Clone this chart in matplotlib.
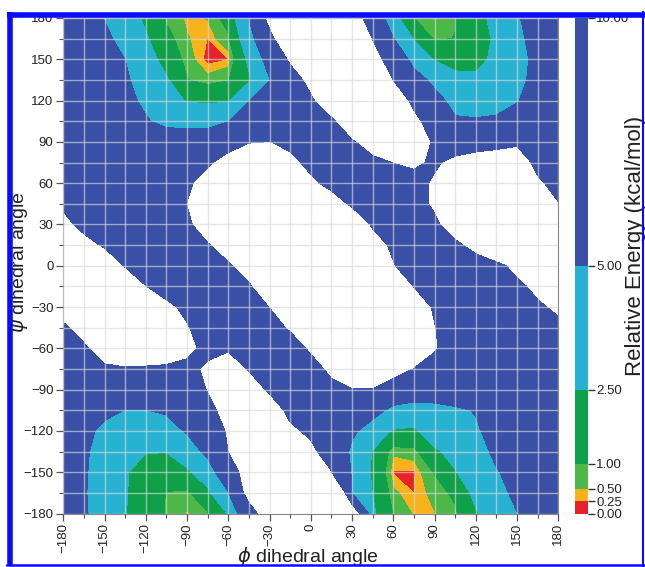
import numpy as np
import matplotlib
matplotlib.use('Agg')
import matplotlib.pyplot as plt
from matplotlib.lines import Line2D

# ---------------- data (relative energy, kcal/mol) ----------------
phi = list(range(-180, 181, 15))            # columns
psi_rows = list(range(180, -181, -15))      # rows, top to bottom

e_p180 = [7.5, 6.2, 4.91, 3.52, 2.13, 0.89, 0.41, 0.53, 1.33, 5.05, 11.5, 16.5, 20, 18, 12.7, 7.6, 3.14, 0.98, 0.42, 0.96, 1.88, 3.07, 4.77, 6.16, 7.5]
e_p165 = [7.3, 6.39, 5.48, 4.27, 2.71, 1.28, 0.54, 0.24, 0.875, 3.75, 8.64, 14.8, 19, 20, 15, 9.9, 5.1, 2.39, 0.9, 1.02, 1.83, 2.73, 4.43, 5.92, 7.3]
e_p150 = [7.0, 6.6, 6.3, 4.98, 3.37, 1.8, 0.72, 0.12, 0.24, 2.87, 6.08, 10.71, 16, 20, 17.6, 12.4, 7.37, 4.07, 2.37, 1.35, 1.95, 2.93, 4.22, 5.6, 7.0]
e_p135 = [6.8, 6.9, 6.3, 5.3, 4.07, 2.69, 1.05, 0.65, 0.95, 2.22, 4.9, 7.94, 11.3, 17, 20, 15, 9.95, 6.17, 4.35, 3.4, 2.85, 3.81, 4.57, 5.5, 6.8]
e_p120 = [7.0, 7.0, 6.4, 5.6, 4.58, 3.42, 2.35, 2.2, 2.3, 4.95, 6.42, 7.9, 9.37, 13, 18.3, 18.6, 13.3, 8.9, 5.9, 4.2, 4.0, 4.3, 4.9, 5.8, 7.0]
e_p105 = [7.4, 7.0, 6.3, 5.6, 5.2, 4.4, 4.2, 4.2, 4.95, 7.3, 8.2, 8.0, 8.2, 9.3, 13, 16, 15, 11.2, 7.8, 5.3, 5.2, 5.3, 5.8, 6.4, 7.4]
e_p090 = [8.0, 7.6, 7.0, 6.5, 6.3, 6.3, 6.5, 6.5, 8.4, 9.8, 10.05, 9.27, 8.4, 8.6, 9.6, 12, 13, 12, 9.6, 7.8, 8.1, 8.8, 9.6, 7.8, 8.0]
e_p075 = [8.6, 8.2, 7.7, 7.4, 7.3, 7.4, 8.8, 9.5, 11.5, 13, 12.5, 10.8, 9.2, 8.2, 8.3, 9.0, 10.05, 10.6, 9.5, 11, 12, 12, 11.5, 9.3, 8.6]
e_p060 = [9.2, 8.8, 8.2, 7.8, 7.8, 8.3, 9.4, 11.5, 13.5, 15, 14, 12, 10.6, 9.1, 8.3, 8.2, 8.5, 8.8, 10.5, 12, 13, 13, 12, 10.4, 9.2]
e_p045 = [9.7, 9.0, 8.4, 8.0, 7.9, 8.3, 10.05, 12.5, 15, 16, 16, 15, 13, 11.5, 9.5, 8.0, 7.8, 8.5, 10.6, 12.5, 14, 14, 13, 11.5, 10.1]
e_p030 = [10.5, 9.5, 8.8, 8.3, 8.0, 8.3, 9.5, 11.5, 14, 17, 18, 18, 17, 15, 12.5, 9.6, 8.0, 8.2, 9.3, 11.9, 14, 15, 15, 14, 12]
e_p015 = [12.5, 10.6, 9.8, 9.0, 8.3, 8.3, 9.0, 9.8, 11.3, 14, 17, 18, 17, 16, 14, 11.5, 9.4, 8.3, 8.2, 9.3, 11.1, 13, 14.5, 15, 14]
e_0000 = [14, 13, 11.2, 9.9, 8.8, 8.3, 8.5, 9.2, 9.7, 11.2, 14, 16, 17, 16, 14.5, 12.5, 10.2, 8.3, 8.0, 8.0, 8.5, 9.3, 10.8, 12, 13]
e_m015 = [14, 14, 12.5, 11.2, 10.05, 8.9, 8.3, 8.5, 9.0, 9.7, 11.9, 14, 15, 15.5, 15, 13.5, 11.8, 9.95, 8.3, 8.0, 8.1, 8.6, 9.4, 10.7, 12]
e_m030 = [11.5, 13, 13.5, 13, 11.8, 10.6, 9.4, 8.4, 8.4, 9.0, 10.05, 12.5, 14, 15, 15, 14.5, 13, 11.5, 9.7, 8.5, 8.0, 8.2, 8.8, 9.6, 10.5]
e_m045 = [9.5, 11.1, 12.5, 13, 12.5, 11.5, 10.2, 8.7, 8.2, 8.3, 9.0, 10.3, 12.5, 14, 15, 15, 14, 12.5, 10.1, 8.5, 7.8, 7.8, 8.2, 8.8, 9.4]
e_m060 = [8.8, 9.6, 11.2, 11.8, 11.8, 11.5, 10.6, 9.4, 9.7, 8.8, 8.3, 8.8, 10.4, 12.5, 14, 14.5, 14, 12.5, 10.3, 8.5, 7.6, 7.3, 7.4, 7.8, 8.3]
e_m075 = [8.0, 8.8, 9.6, 9.8, 9.7, 9.6, 9.4, 10.4, 11.5, 9.8, 8.5, 8.4, 9.0, 10.6, 12.5, 13, 12, 9.9, 8.7, 7.8, 7.2, 7.0, 7.0, 7.3, 7.8]
e_m090 = [7.4, 7.6, 7.7, 7.6, 7.4, 7.3, 8.0, 10.15, 12.5, 11.5, 9.6, 8.3, 8.4, 9.3, 9.85, 9.85, 7.6, 6.8, 6.5, 6.3, 6.5, 6.8, 7.0, 7.2, 7.4]
e_m105 = [6.8, 6.2, 5.5, 4.95, 4.95, 5.3, 7.6, 9.27, 11, 12.5, 11.5, 9.3, 8.2, 8.0, 7.6, 6.2, 4.2, 3.8, 4.2, 4.7, 5.1, 5.8, 6.2, 6.5, 6.8]
e_m120 = [6.5, 5.6, 4.5, 3.9, 3.6, 4.0, 5.25, 7.9, 10.4, 12, 11.5, 10.5, 9.5, 7.8, 5.6, 3.5, 2.35, 2.2, 3.5, 4.2, 4.8, 5.6, 6.0, 6.3, 6.5]
e_m135 = [6.3, 5.4, 3.9, 2.9, 2.55, 2.55, 3.6, 5.7, 10.05, 12, 13, 12, 10.6, 8.7, 4.3, 2.4, 0.57, 0.74, 2.2, 3.1, 4.3, 5.37, 5.8, 6.0, 6.3]
e_m150 = [6.2, 5.3, 3.7, 2.6, 2.0, 1.7, 2.2, 3.6, 7.4, 12.5, 13.5, 13, 11.5, 10.1, 4.7, 2.2, 0.22, 0.2, 1.05, 2.4, 3.6, 4.9, 5.5, 5.8, 6.2]
e_m165 = [6.0, 5.2, 3.8, 2.6, 1.8, 0.95, 0.8, 2.1, 4.9, 11.9, 14, 14, 17, 20, 4.95, 2.45, 0.6, 0.24, 0.66, 1.18, 3.03, 4.3, 5.5, 5.8, 6.0]
e_m180 = [5.9, 5.25, 4.0, 2.55, 1.8, 0.92, 0.45, 0.9, 2.6, 7.9, 13, 16, 17, 15, 14, 2.8, 0.95, 0.45, 0.48, 0.85, 2.3, 3.6, 4.95, 5.5, 5.9]

energy_rows = [e_p180, e_p165, e_p150, e_p135, e_p120, e_p105, e_p090, e_p075,
               e_p060, e_p045, e_p030, e_p015, e_0000, e_m015, e_m030, e_m045,
               e_m060, e_m075, e_m090, e_m105, e_m120, e_m135, e_m150, e_m165,
               e_m180]

levels = [0.0, 0.25, 0.5, 1.0, 2.5, 5.0, 10.0]
level_labels = ['0.00', '0.25', '0.50', '1.00', '2.50', '5.00', '10.00']
band_colors = ['#E8222A', '#F8B21B', '#4DB848', '#0FA04A', '#27B2D2', '#3A50A6']
axis_ticks = list(range(-180, 181, 30))
minor_ticks = list(range(-180, 181, 15))

# ---------------- figure ----------------
W, H = 645, 567
fig = plt.figure(figsize=(W / 100, H / 100), dpi=100)
fig.patch.set_facecolor('white')
plt.rcParams['mathtext.fontset'] = 'dejavusans'
FONT = 'Liberation Sans'

x0, x1, y0, y1 = 63.3, 558.3, 18.0, 513.5
ax = fig.add_axes([x0 / W, 1 - y1 / H, (x1 - x0) / W, (y1 - y0) / H])

Z = np.array(energy_rows)[::-1]
psi = np.array(psi_rows)[::-1]
PHI, PSI = np.meshgrid(phi, psi)
cs = ax.contourf(PHI, PSI, Z, levels=levels, colors=band_colors, zorder=1)

ax.set_xlim(-180, 180)
ax.set_ylim(-180, 180)
ax.set_xticks(axis_ticks)
ax.set_yticks(axis_ticks)
ax.set_xticks(minor_ticks, minor=True)
ax.set_yticks(minor_ticks, minor=True)
ax.set_axisbelow(False)
ax.grid(which='both', color='#dadada', alpha=0.65, linewidth=1.0, zorder=2)
ax.tick_params(which='major', direction='out', length=5, width=0.9, color='#555555')
ax.tick_params(which='minor', direction='out', length=3, width=0.8, color='#555555')
ax.tick_params(axis='x', labelrotation=90, pad=2)
ax.tick_params(axis='y', pad=2)
for lab in ax.get_xticklabels() + ax.get_yticklabels():
    lab.set_fontfamily(FONT)
    lab.set_fontsize(9.5)
    lab.set_color('#222222')
for sp in ax.spines.values():
    sp.set_color('#888888')
    sp.set_linewidth(0.8)

# colour bar
cax = fig.add_axes([575 / W, 1 - y1 / H, 13 / W, (y1 - y0) / H])
cb = fig.colorbar(cs, cax=cax, spacing='proportional', ticks=levels)
cb.outline.set_visible(False)
cb.ax.set_yticklabels(level_labels)
cb.ax.tick_params(length=5, width=1.0, color='#333333', pad=1)
for lab in cb.ax.get_yticklabels():
    lab.set_fontfamily(FONT)
    lab.set_fontsize(9.5)
    lab.set_color('#222222')

fig.text(635 / W, 1 - 246 / H, 'Relative Energy (kcal/mol)', rotation=90,
         ha='center', va='center', fontsize=16, family=FONT, color='#222222')
fig.text(20 / W, 1 - 262 / H, r'$\psi$ dihedral angle', rotation=90,
         ha='center', va='center', fontsize=14, family=FONT, color='#222222')
fig.text(308 / W, 1 - 557 / H, r'$\phi$ dihedral angle',
         ha='center', va='center', fontsize=14, family=FONT, color='#222222')

# blue frame around the figure
frame_col = '#0a0aff'
fig.add_artist(Line2D([9.5 / W, 9.5 / W], [1 - 12 / H, 1 - 566 / H], color=frame_col,
                      lw=4.0, transform=fig.transFigure, zorder=20, solid_capstyle='butt'))
fig.add_artist(Line2D([7 / W, 645 / W], [1 - 14.5 / H, 1 - 14.5 / H], color=frame_col,
                      lw=4.0, transform=fig.transFigure, zorder=20, solid_capstyle='butt'))
fig.add_artist(Line2D([643 / W, 643 / W], [1 - 12 / H, 1 - 566 / H], color=frame_col,
                      lw=1.5, transform=fig.transFigure, zorder=20))
fig.add_artist(Line2D([7 / W, 645 / W], [1 - 564.5 / H, 1 - 564.5 / H], color=frame_col,
                      lw=1.8, transform=fig.transFigure, zorder=20))

fig.savefig('out.png', dpi=100, facecolor='white')
